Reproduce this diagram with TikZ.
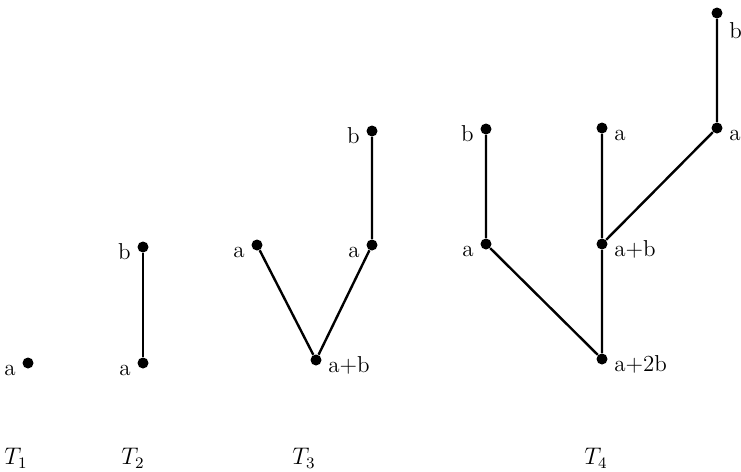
\documentclass[tikz,border=0pt]{standalone}
\usetikzlibrary{positioning}
\tikzset{
  vtx/.style={circle, fill=black, inner sep=0pt, minimum size=5.5pt},
  edg/.style={line width=1.2pt},
  lbl/.style={font=\fontsize{11.5}{13}\selectfont, inner sep=0.5pt},
  lr/.style={label={[lbl, anchor=base west, xshift=2.5pt, yshift=-6pt]right:#1}},
  ll/.style={label={[lbl, anchor=base east, xshift=-2.5pt, yshift=-6pt]left:#1}},
  tname/.style={font=\fontsize{11.5}{13}\selectfont},
}
\begin{document}
\begin{tikzpicture}[x=0.5pt, y=-0.5pt]
\useasboundingbox (0,0) rectangle (741,472);
% T1
\node[vtx, ll=a] (t1a) at (28,363) {};
% T2
\node[vtx, ll=a] (t2a) at (143,363) {};
\node[vtx, ll=b] (t2b) at (143,247) {};
\draw[edg] (t2a) -- (t2b);
% T3
\node[vtx, lr=a+b] (t3r) at (316,360) {};
\node[vtx, ll=a] (t3l) at (257,245) {};
\node[vtx, ll=a] (t3m) at (372,245) {};
\node[vtx, ll=b] (t3t) at (372,131) {};
\draw[edg] (t3l) -- (t3r) -- (t3m) -- (t3t);
% T4
\node[vtx, lr=a+2b] (t4r) at (602,359) {};
\node[vtx, ll=a] (t4l) at (486,244) {};
\node[vtx, ll=b] (t4lt) at (486,129) {};
\node[vtx, lr=a+b] (t4m) at (602,244) {};
\node[vtx, lr=a] (t4mt) at (602,128) {};
\node[vtx, lr=a] (t4n) at (717,128) {};
\node[vtx, label={[lbl, anchor=base west, xshift=2.5pt, yshift=-12.5pt]right:b}] (t4nt) at (717,13) {};
\draw[edg] (t4lt) -- (t4l) -- (t4r) -- (t4m) -- (t4mt);
\draw[edg] (t4m) -- (t4n) -- (t4nt);
% names
\node[tname] (n1) at (16,458) {$T_1$};
\node[tname] (n2) at (133,458) {$T_2$};
\node[tname] (n3) at (304,458) {$T_3$};
\node[tname] (n4) at (596,458) {$T_4$};
\end{tikzpicture}
\end{document}
